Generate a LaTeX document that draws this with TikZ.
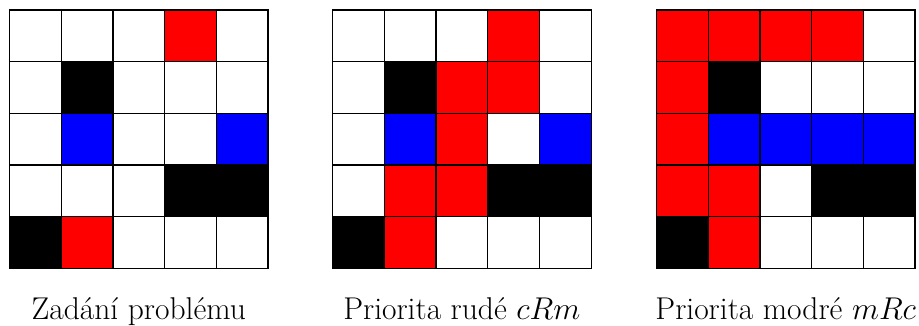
\RequirePackage{fix-cm}
\documentclass[tikz,border=0pt]{standalone}
\begin{document}
\begin{tikzpicture}[x=1pt,y=1pt,
  cellbox/.style={draw=black,line width=1.2pt},
  lbl/.style={anchor=base,font=\fontsize{31.5}{36}\selectfont,inner sep=0pt}]
\useasboundingbox (0,0) rectangle (919,326);
\def\cs{51.7}
\newcommand{\gridrow}[3]{% #1 x0, #2 row index, #3 list of colours
  \foreach \c [count=\i from 0] in {#3} {
    \filldraw[cellbox,fill=\c] ({#1+\i*\cs},{316-(#2+1)*\cs}) rectangle ++(\cs,\cs);
  }
}
% Grid 1
\gridrow{9.5}{0}{white,white,white,red,white}
\gridrow{9.5}{1}{white,black,white,white,white}
\gridrow{9.5}{2}{white,blue,white,white,blue}
\gridrow{9.5}{3}{white,white,white,black,black}
\gridrow{9.5}{4}{black,red,white,white,white}
% Grid 2
\gridrow{332.6}{0}{white,white,white,red,white}
\gridrow{332.6}{1}{white,black,red,red,white}
\gridrow{332.6}{2}{white,blue,red,white,blue}
\gridrow{332.6}{3}{white,red,red,black,black}
\gridrow{332.6}{4}{black,red,white,white,white}
% Grid 3
\gridrow{656.5}{0}{red,red,red,red,white}
\gridrow{656.5}{1}{red,black,white,white,white}
\gridrow{656.5}{2}{red,blue,blue,blue,blue}
\gridrow{656.5}{3}{red,red,white,black,black}
\gridrow{656.5}{4}{black,red,white,white,white}
\node[lbl] (l1) at ({9.5+2.5*\cs},6.5) {Zadání problému};
\node[lbl] (l2) at ({332.6+2.5*\cs},6.5) {Priorita rudé $cRm$};
\node[lbl] (l3) at ({656.5+2.5*\cs},6.5) {Priorita modré $mRc$};
\end{tikzpicture}
\end{document}
